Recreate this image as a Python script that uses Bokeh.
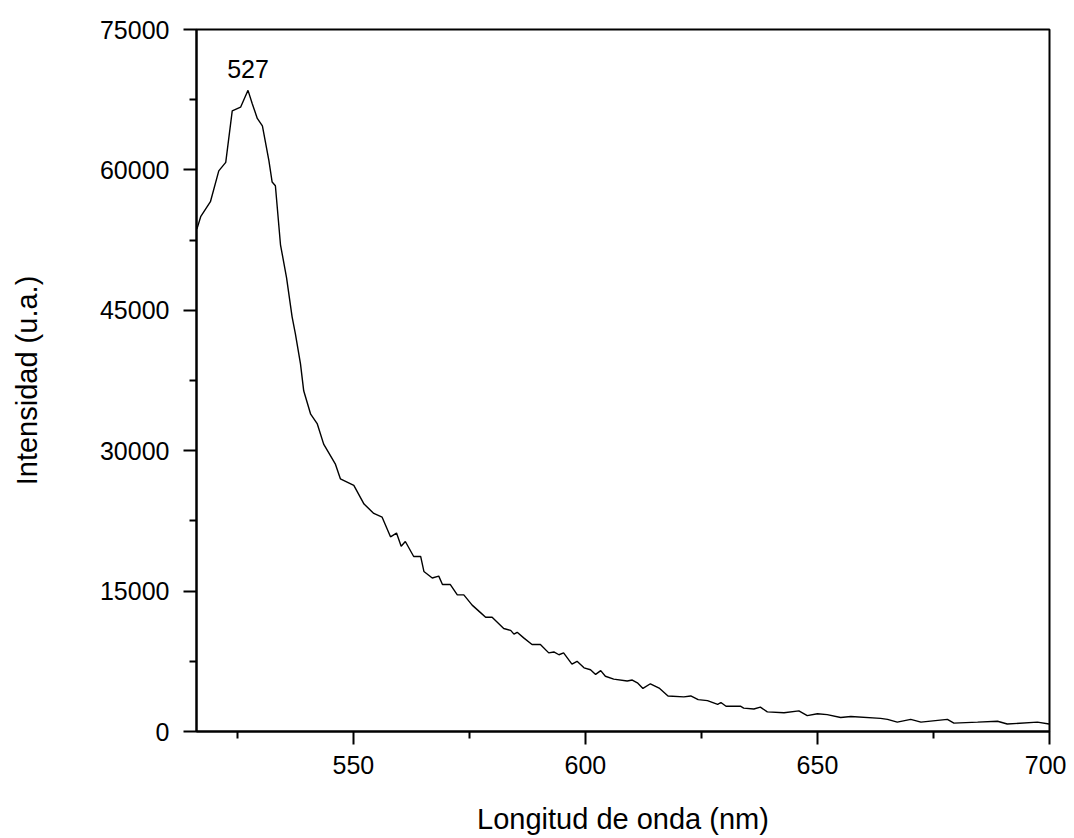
from bokeh.plotting import figure
from bokeh.models import Range1d, FixedTicker, Label
from bokeh.embed import file_html
from bokeh.resources import INLINE

wavelength = [516.3, 517.1, 519.2, 521.0, 522.5, 523.9, 525.7, 527.3, 528.2, 529.3,
              530.4, 531.8, 532.5, 533.2, 534.3, 535.6, 536.8, 537.5, 538.6, 539.3,
              540.8, 542.2, 543.6, 546.1, 547.2, 550.1, 552.3, 554.4, 556.2, 558.0,
              559.3, 560.3, 561.2, 563.0, 564.5, 565.2, 567.0, 568.4, 569.2, 570.9,
              572.4, 573.8, 575.6, 577.4, 578.5, 579.9, 582.4, 583.9, 584.6, 585.3,
              586.7, 588.5, 590.3, 592.1, 593.2, 594.3, 595.3, 597.1, 598.2, 599.7,
              601.1, 602.2, 603.3, 604.3, 606.1, 609.0, 610.1, 611.2, 612.4, 614.0,
              616.0, 617.8, 621.2, 622.7, 624.3, 626.3, 628.5, 629.2, 630.3, 633.4,
              634.1, 636.3, 637.7, 639.2, 642.8, 646.0, 647.8, 650.0, 652.1, 655.0,
              657.2, 663.6, 665.1, 667.2, 670.1, 672.3, 678.0, 679.4, 684.5, 688.8,
              690.9, 697.4, 699.9]
intensity = [53700, 55000, 56600, 59900, 60800, 66300, 66700, 68500, 67100, 65500,
             64700, 61000, 58700, 58300, 52000, 48500, 44300, 42500, 39300, 36400,
             33900, 32900, 30700, 28600, 27000, 26300, 24300, 23300, 22900, 20800,
             21200, 19800, 20300, 18700, 18700, 17100, 16400, 16600, 15700, 15700,
             14600, 14600, 13500, 12700, 12200, 12200, 11000, 10800, 10400, 10600,
             10000, 9300, 9300, 8400, 8500, 8200, 8400, 7200, 7500, 6800,
             6600, 6100, 6500, 5900, 5600, 5400, 5500, 5200, 4600, 5100,
             4600, 3800, 3700, 3800, 3400, 3300, 2900, 3100, 2700, 2700,
             2500, 2400, 2600, 2100, 2000, 2200, 1700, 1900, 1800, 1500,
             1600, 1400, 1300, 1000, 1300, 1000, 1300, 900, 1000, 1100,
             800, 1000, 800]

x_major = [550, 600, 650, 700]
x_minor = [525, 575, 625, 675]
y_major = [0, 15000, 30000, 45000, 60000, 75000]
y_minor = [7500, 22500, 37500, 52500, 67500]

peak_label = "527"
x_title = "Longitud de onda (nm)"
y_title = "Intensidad (u.a.)"

FONT = "Liberation Sans"

p = figure(width=1066, height=837, output_backend="svg", toolbar_location=None,
           x_range=Range1d(516.2, 700), y_range=Range1d(0, 75000),
           min_border_left=196, min_border_right=17, min_border_top=29,
           min_border_bottom=106)

p.line(wavelength, intensity, line_color="black", line_width=1.4)

pk = intensity.index(max(intensity))
p.add_layout(Label(x=wavelength[pk], y=intensity[pk], text=peak_label,
                   text_align="center", text_baseline="bottom", y_offset=12,
                   text_font=FONT, text_font_size="25px", text_color="black"))

p.grid.visible = False
p.background_fill_color = "white"
p.border_fill_color = "white"
p.outline_line_color = "black"
p.outline_line_width = 2
p.outline_line_alpha = 1

p.xaxis.ticker = FixedTicker(ticks=x_major, minor_ticks=x_minor)
p.yaxis.ticker = FixedTicker(ticks=y_major, minor_ticks=y_minor)

for ax in (p.xaxis[0], p.yaxis[0]):
    ax.axis_line_color = "black"
    ax.axis_line_width = 2
    ax.major_tick_line_color = "black"
    ax.major_tick_line_width = 2
    ax.minor_tick_line_color = "black"
    ax.minor_tick_line_width = 2
    ax.major_tick_in = 0
    ax.minor_tick_in = 0
    ax.major_tick_out = 13
    ax.minor_tick_out = 7
    ax.major_label_text_font = FONT
    ax.major_label_text_font_size = "25px"
    ax.major_label_text_color = "black"
    ax.axis_label_text_font = FONT
    ax.axis_label_text_font_style = "normal"
    ax.axis_label_text_color = "black"

p.xaxis.axis_label = x_title
p.xaxis.axis_label_text_font_size = "29px"
p.xaxis.major_label_standoff = 11
p.xaxis.axis_label_standoff = 26

p.yaxis.axis_label = y_title
p.yaxis.axis_label_text_font_size = "29px"
p.yaxis.major_label_standoff = 14
p.yaxis.axis_label_standoff = 54

open("out.html", "w").write(file_html(p, INLINE))
